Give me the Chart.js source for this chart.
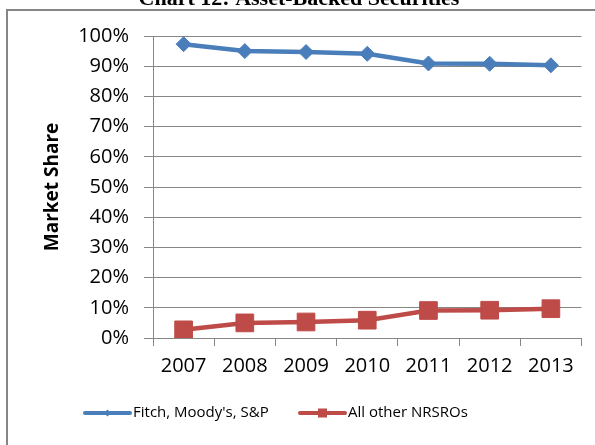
<!DOCTYPE html>
<html>
<head>
<meta charset="utf-8">
<script src="https://cdn.jsdelivr.net/npm/chart.js@4"></script>
<style>
  html, body { margin: 0; padding: 0; background: #fff; }
  #wrap { position: relative; width: 595px; height: 445px; }
</style>
</head>
<body>
<div id="wrap"><canvas id="chart" width="595" height="445"></canvas></div>
<script>
// ===== Data =====
const chartTitle = 'Chart 12: Asset-Backed Securities';
const years = ['2007', '2008', '2009', '2010', '2011', '2012', '2013'];
const bigThree = [97.3, 95.0, 94.7, 94.1, 90.9, 90.8, 90.3];
const otherNrsros = [2.7, 5.0, 5.3, 5.9, 9.1, 9.2, 9.7];
const seriesNames = ["Fitch, Moody's, S&P", 'All other NRSROs'];
const yTicks = [0, 10, 20, 30, 40, 50, 60, 70, 80, 90, 100];

const BLUE = '#4a7ebb';
const RED = '#be4b48';
const GRID = '#868686';

// frame, clipped title and line-style legend
const decorPlugin = {
    id: 'decor',
    afterDraw(chart) {
        const ctx = chart.ctx;
        ctx.save();

        ctx.strokeStyle = GRID;
        ctx.lineWidth = 2;
        ctx.beginPath();
        ctx.moveTo(7, 445);
        ctx.lineTo(7, 10);
        ctx.lineTo(595, 10);
        ctx.stroke();

        ctx.fillStyle = '#000';
        ctx.font = 'bold 22px "Liberation Serif"';
        ctx.textAlign = 'center';
        ctx.textBaseline = 'alphabetic';
        ctx.fillText(chartTitle, 299, 5);

        const items = [
            { x: 85, ds: chart.data.datasets[0] },
            { x: 300, ds: chart.data.datasets[1] }
        ];
        const ly = 413;
        ctx.font = '15px "Open Sans"';
        ctx.textAlign = 'left';
        ctx.textBaseline = 'middle';
        items.forEach(it => {
            ctx.strokeStyle = it.ds.borderColor;
            ctx.lineWidth = 4;
            ctx.lineCap = 'round';
            ctx.beginPath();
            ctx.moveTo(it.x, ly);
            ctx.lineTo(it.x + 45, ly);
            ctx.stroke();
            ctx.fillStyle = it.ds.borderColor;
            const cx = it.x + 22.5;
            if (it.ds.pointStyle === 'rectRot') {
                ctx.beginPath();
                ctx.moveTo(cx, ly - 3.5);
                ctx.lineTo(cx + 3.5, ly);
                ctx.lineTo(cx, ly + 3.5);
                ctx.lineTo(cx - 3.5, ly);
                ctx.closePath();
                ctx.fill();
            } else {
                ctx.fillRect(cx - 4.5, ly - 4.5, 9, 9);
            }
            ctx.fillStyle = '#000';
            ctx.fillText(it.ds.label, it.x + 48, ly);
        });

        ctx.restore();
    }
};

new Chart(document.getElementById('chart'), {
    type: 'line',
    data: {
        labels: years,
        datasets: [{
            label: seriesNames[0],
            data: bigThree,
            borderColor: BLUE,
            backgroundColor: BLUE,
            borderWidth: 4.5,
            pointStyle: 'rectRot',
            pointRadius: 7.5,
            pointBorderWidth: 1,
            tension: 0
        }, {
            label: seriesNames[1],
            data: otherNrsros,
            borderColor: RED,
            backgroundColor: RED,
            borderWidth: 4.5,
            pointStyle: 'rect',
            pointRadius: 12.5,
            pointBorderWidth: 1,
            tension: 0
        }]
    },
    options: {
        responsive: false,
        animation: false,
        layout: { padding: { top: 36, right: 8, left: 0, bottom: 0 } },
        plugins: {
            legend: { display: false },
            title: { display: false },
            tooltip: { enabled: false }
        },
        scales: {
            x: {
                offset: true,
                afterFit(scale) { scale.height = 107; },
                grid: {
                    offset: true,
                    drawOnChartArea: false,
                    color: GRID,
                    tickLength: 8
                },
                border: { display: true, color: GRID, width: 1 },
                ticks: {
                    color: '#000',
                    font: { family: 'Open Sans', size: 20 },
                    padding: 8,
                    maxRotation: 0
                }
            },
            y: {
                min: 0,
                max: 100,
                afterFit(scale) { scale.width = 153; },
                afterBuildTicks(scale) { scale.ticks = yTicks.map(v => ({ value: v })); },
                grid: { color: GRID, tickLength: 9 },
                border: { display: true, color: GRID, width: 1 },
                ticks: {
                    color: '#000',
                    font: { family: 'Open Sans', size: 20 },
                    padding: 15,
                    callback: v => v + '%'
                },
                title: {
                    display: true,
                    text: 'Market Share',
                    color: '#000',
                    font: { family: 'Open Sans', size: 19, weight: 'bold' },
                    padding: { top: 41, bottom: 0 }
                }
            }
        }
    },
    plugins: [decorPlugin]
});
</script>
</body>
</html>
